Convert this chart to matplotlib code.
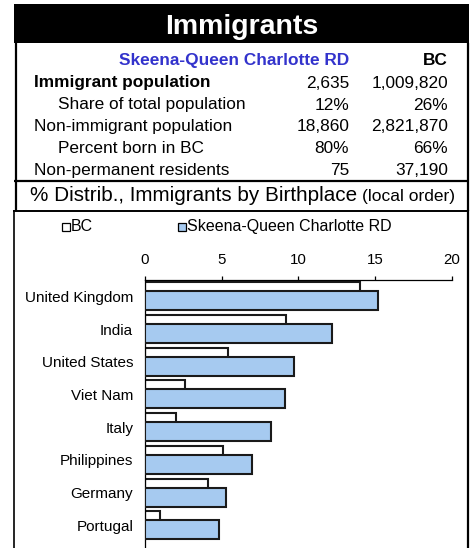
import matplotlib
matplotlib.use("Agg")
import matplotlib.pyplot as plt
from matplotlib.patches import Rectangle
from matplotlib.lines import Line2D

plt.rcParams['font.family'] = ['Liberation Sans', 'DejaVu Sans']

# ---- data ----
title = "Immigrants"
region_name = "Skeena-Queen Charlotte RD"
province_name = "BC"
row_labels = ["Immigrant population", "Share of total population",
              "Non-immigrant population", "Percent born in BC",
              "Non-permanent residents"]
region_values = ["2,635", "12%", "18,860", "80%", "75"]
bc_values = ["1,009,820", "26%", "2,821,870", "66%", "37,190"]

countries = ["United Kingdom", "India", "United States", "Viet Nam",
             "Italy", "Philippines", "Germany", "Portugal"]
bc_pct = [14.0, 9.2, 5.4, 2.6, 2.0, 5.1, 4.1, 1.0]
region_pct = [15.2, 12.2, 9.7, 9.1, 8.2, 7.0, 5.3, 4.8]
x_ticks = [0, 5, 10, 15, 20]

# ---- figure ----
W, H = 474, 548
fig = plt.figure(figsize=(W / 100, H / 100), dpi=100)

def fx(x):
    return x / W

def fy(y):
    return 1 - y / H

# title bar
fig.patches.append(Rectangle((fx(14), fy(43)), fx(469) - fx(14), fy(4) - fy(43),
                             transform=fig.transFigure, facecolor='black',
                             edgecolor='none'))
fig.text(fx(241.5), fy(34.5), title, color='white', fontsize=20.5,
         fontweight='bold', ha='center', va='baseline')

def vline(x, y0, y1, lw):
    fig.add_artist(Line2D([fx(x), fx(x)], [fy(y0), fy(y1)], color='black',
                          lw=lw, transform=fig.transFigure, solid_capstyle='butt'))

def hline(y, x0, x1, lw):
    fig.add_artist(Line2D([fx(x0), fx(x1)], [fy(y), fy(y)], color='black',
                          lw=lw, transform=fig.transFigure, solid_capstyle='butt'))

# frames
vline(15.5, 43, 211, 1.6)
vline(467.8, 43, 211, 1.6)
hline(181, 14, 469, 1.6)
hline(210.5, 13, 469, 1.4)
vline(14, 210, 548, 1.2)
vline(467.8, 210, 548, 1.6)

# table
fs = 12.4
fig.text(fx(349), fy(65), region_name, color='#3333cc', fontsize=fs,
         fontweight='bold', ha='right', va='baseline')
fig.text(fx(448), fy(65), province_name, color='black', fontsize=fs,
         fontweight='bold', ha='right', va='baseline')
baselines = [87.5, 109.5, 131, 153, 175]
indents = [34, 58, 34, 58, 34]
for i, lab in enumerate(row_labels):
    fig.text(fx(indents[i]), fy(baselines[i]), lab, fontsize=fs,
             fontweight='bold' if i == 0 else 'normal', ha='left', va='baseline')
    fig.text(fx(349), fy(baselines[i]), region_values[i], fontsize=fs,
             ha='right', va='baseline')
    fig.text(fx(448), fy(baselines[i]), bc_values[i], fontsize=fs,
             ha='right', va='baseline')

# subtitle
fig.text(fx(30), fy(201), "% Distrib., Immigrants by Birthplace ",
         fontsize=14.9, ha='left', va='baseline')
fig.text(fx(362), fy(201), "(local order)", fontsize=12.5, ha='left',
         va='baseline')

# legend (manual)
bar_blue = '#a6caf0'
edge = '#1a1a1a'
fig.patches.append(Rectangle((fx(61.5), fy(230.5)), fx(8), 8 / H,
                             transform=fig.transFigure, facecolor='white',
                             edgecolor='black', lw=0.9))
fig.text(fx(71), fy(231), province_name, fontsize=11.5, ha='left', va='baseline')
fig.patches.append(Rectangle((fx(177.5), fy(230.5)), fx(8), 8 / H,
                             transform=fig.transFigure, facecolor=bar_blue,
                             edgecolor='black', lw=0.9))
fig.text(fx(187), fy(231), region_name, fontsize=11.5, ha='left', va='baseline')

# chart axes
x0_px, x1_px = 145, 451.7
y0_px, y1_px = 280, 548
ax = fig.add_axes([fx(x0_px), fy(y1_px), fx(x1_px) - fx(x0_px),
                   fy(y0_px) - fy(y1_px)])
pitch = 32.7
ybottom = -0.5 + (y1_px - y0_px) / pitch
ax.set_xlim(0, 20)
ax.set_ylim(ybottom, -0.5)
ax.patch.set_alpha(0)

h = 0.58
pos = list(range(len(countries)))
ax.barh([p - 0.138 for p in pos], bc_pct, height=h, color='white',
        edgecolor=edge, lw=1.5, zorder=2)
ax.barh([p + 0.138 for p in pos], region_pct, height=h, color=bar_blue,
        edgecolor=edge, lw=1.5, zorder=3)

ax.set_yticks(pos)
ax.set_yticklabels(countries, fontsize=11)
ax.tick_params(axis='y', length=0, pad=8.5)
ax.set_xticks(x_ticks)
ax.xaxis.tick_top()
ax.tick_params(axis='x', length=3, width=0.9, pad=6.7, labelsize=10.8,
               top=True, bottom=False, direction='out')
for s in ['right', 'bottom']:
    ax.spines[s].set_visible(False)
ax.spines['top'].set_linewidth(0.9)
ax.spines['left'].set_linewidth(0.9)

fig.savefig("out.png", dpi=100)
